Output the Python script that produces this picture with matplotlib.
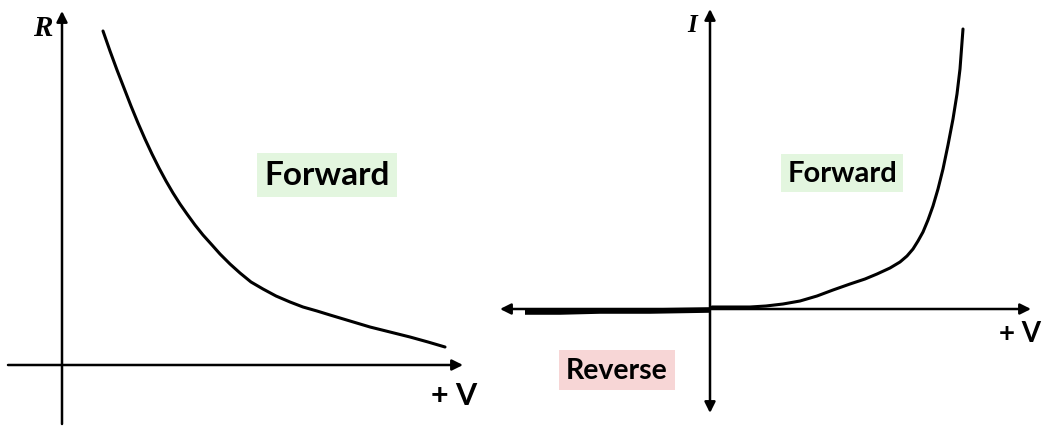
import matplotlib
matplotlib.use("Agg")
import matplotlib.pyplot as plt

# Left panel: resistance vs forward voltage (pixel-space sketch)
r_curve_x = [103, 110, 117, 124, 131, 138, 145, 152, 159, 166, 173, 180, 187, 195, 203, 212, 220,
             230, 240, 251, 263, 276, 290, 303, 317, 330, 350, 370, 390, 410, 428, 445]
r_curve_y = [32, 52, 71, 89, 107, 124, 140, 155, 169, 182, 194, 205, 215, 226, 236, 246, 255,
             265, 274, 283, 290, 297, 303, 308, 312, 316, 322, 328, 333, 338, 343, 348]

# Right panel: I-V curve
iv_rev_x = [525, 560, 600, 650, 710]
iv_rev_y = [313, 313, 312, 312, 311]
iv_fwd_x = [712, 730, 750, 766, 783, 800, 817, 833, 850, 865, 877, 890, 900, 907, 913, 918, 923, 928,
            933, 938, 943, 948, 953, 957, 960, 963]
iv_fwd_y = [308, 308, 308, 307, 305, 302, 297, 291, 285, 280, 275, 269, 263, 257, 250, 242, 233, 221,
            207, 190, 170, 146, 120, 95, 70, 30]

W, H = 1049, 427
fig = plt.figure(figsize=(W / 100, H / 100), dpi=100)
ax = fig.add_axes([0, 0, 1, 1])
ax.set_xlim(0, W)
ax.set_ylim(H, 0)
ax.axis("off")

arrow = dict(arrowstyle="-|>", lw=1.8, color="black", mutation_scale=16, shrinkA=0, shrinkB=0)

# Left axes
ax.annotate("", xy=(62, 12), xytext=(62, 425), arrowprops=arrow)
ax.annotate("", xy=(463, 366), xytext=(8, 366), arrowprops=arrow)
ax.plot(r_curve_x, r_curve_y, color="black", lw=2.2, solid_capstyle="round",
        solid_joinstyle="round")

# Right axes
ax.annotate("", xy=(710, 10), xytext=(710, 310), arrowprops=arrow)
ax.annotate("", xy=(710, 414), xytext=(710, 310), arrowprops=arrow)
ax.annotate("", xy=(1031, 310), xytext=(710, 310), arrowprops=arrow)
ax.annotate("", xy=(500, 310), xytext=(710, 310), arrowprops=arrow)
ax.plot(iv_rev_x, iv_rev_y, color="black", lw=4.0, solid_capstyle="butt")
ax.plot(iv_fwd_x, iv_fwd_y, color="black", lw=2.2, solid_capstyle="round",
        solid_joinstyle="round")

# Labels
ax.text(43, 28, "R", fontsize=21, fontstyle="italic", fontweight="bold",
        family="Liberation Serif", ha="center", va="center")
ax.text(692, 26, "I", fontsize=18, fontstyle="italic", fontweight="bold",
        family="Liberation Serif", ha="center", va="center")

green = "#e3f6df"
pink = "#f7d6d6"
ax.text(327, 176, "Forward", fontsize=24, fontweight="bold", family="Lato",
        ha="center", va="center",
        bbox=dict(boxstyle="square,pad=0.22", fc=green, ec="none"))
ax.text(842, 174, "Forward", fontsize=21, fontweight="bold", family="Lato",
        ha="center", va="center",
        bbox=dict(boxstyle="square,pad=0.22", fc=green, ec="none"))
ax.text(617, 371, "Reverse", fontsize=20.5, fontweight="bold", family="Lato",
        ha="center", va="center",
        bbox=dict(boxstyle="square,pad=0.25", fc=pink, ec="none"))

ax.text(454, 396, "+ V", fontsize=22, fontweight="bold", family="Lato",
        ha="center", va="center")
ax.text(1020, 334, "+ V", fontsize=20, fontweight="bold", family="Lato",
        ha="center", va="center")

fig.savefig("out.png", dpi=100)
